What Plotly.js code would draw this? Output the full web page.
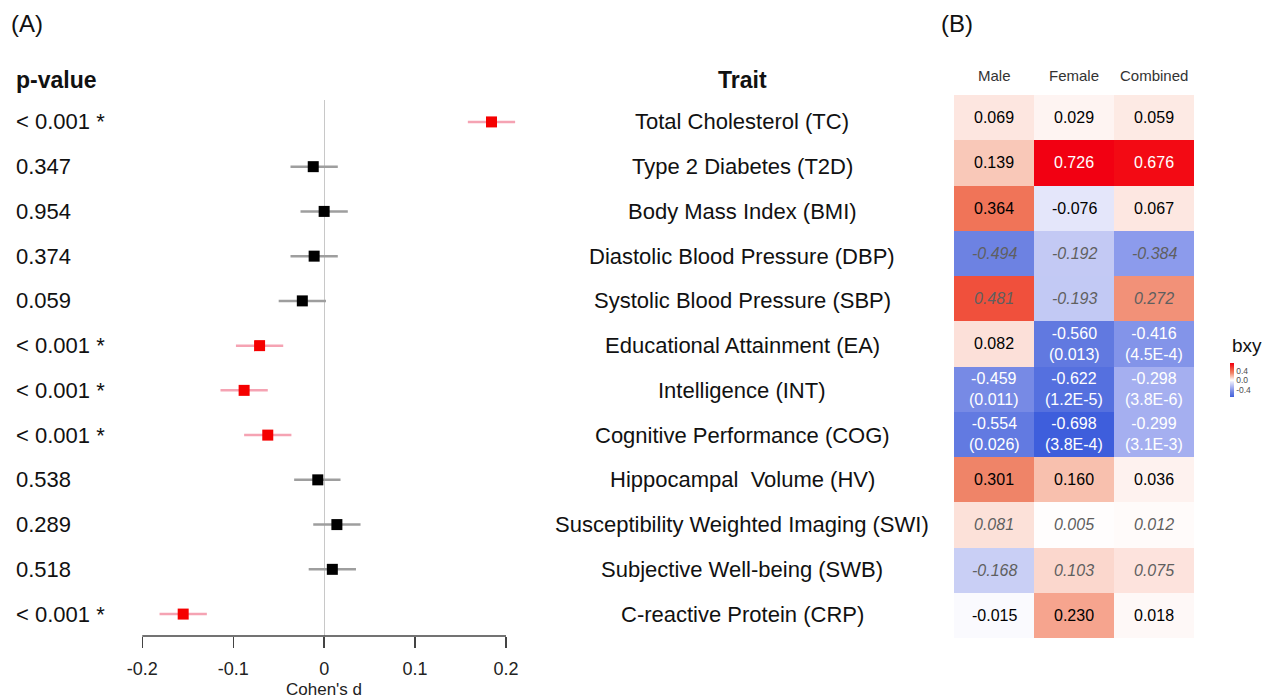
<!DOCTYPE html>
<html>
<head>
<meta charset="utf-8">
<script src="https://cdn.plot.ly/plotly-3.0.1.min.js"></script>
<style>html,body{margin:0;padding:0;background:#fff;}#chart{width:1269px;height:700px;}</style>
</head>
<body>
<div id="chart"></div>
<script>
// ---------------- data ----------------
const traits = ["Total Cholesterol (TC)", "Type 2 Diabetes (T2D)", "Body Mass Index (BMI)",
  "Diastolic Blood Pressure (DBP)", "Systolic Blood Pressure (SBP)", "Educational Attainment (EA)",
  "Intelligence (INT)", "Cognitive Performance (COG)", "Hippocampal\u00a0 Volume (HV)",
  "Susceptibility Weighted Imaging (SWI)", "Subjective Well-being (SWB)", "C-reactive Protein (CRP)"];
const pValues = ["< 0.001 *", "0.347", "0.954", "0.374", "0.059", "< 0.001 *", "< 0.001 *",
  "< 0.001 *", "0.538", "0.289", "0.518", "< 0.001 *"];
const cohenD = [0.184, -0.012, 0.000, -0.011, -0.024, -0.071, -0.088, -0.062, -0.007, 0.014, 0.009, -0.155];
const ciLow  = [0.158, -0.037, -0.026, -0.037, -0.050, -0.097, -0.114, -0.088, -0.033, -0.012, -0.017, -0.181];
const ciHigh = [0.210, 0.015, 0.026, 0.015, 0.002, -0.045, -0.062, -0.036, 0.018, 0.040, 0.035, -0.129];
const xTicks = [-0.2, -0.1, 0, 0.1, 0.2];
const xTickLabels = ["-0.2", "-0.1", "0", "0.1", "0.2"];

const groups = ["Male", "Female", "Combined"];
const bxyMale     = [0.069, 0.139, 0.364, -0.494, 0.481, 0.082, -0.459, -0.554, 0.301, 0.081, -0.168, -0.015];
const bxyFemale   = [0.029, 0.726, -0.076, -0.192, -0.193, -0.560, -0.622, -0.698, 0.160, 0.005, 0.103, 0.230];
const bxyCombined = [0.059, 0.676, 0.067, -0.384, 0.272, -0.416, -0.298, -0.299, 0.036, 0.012, 0.075, 0.018];
const pMale     = [null, null, null, null, null, null, "0.011", "0.026", null, null, null, null];
const pFemale   = [null, null, null, null, null, "0.013", "1.2E-5", "3.8E-4", null, null, null, null];
const pCombined = [null, null, null, null, null, "4.5E-4", "3.8E-6", "3.1E-3", null, null, null, null];
const italicRows = [false, false, false, true, true, false, false, false, false, true, true, false];
const cbTicks = [-0.4, 0, 0.4];
const cbTickLabels = ["-0.4", "0.0", "0.4"];

// ---------------- helpers ----------------
const W = 1269, H = 700;
const FONT = "Liberation Sans, Arial, Helvetica, sans-serif";
const px = v => v / W;
const py = v => 1 - v / H;
const esc = s => s.replace(/</g, "&lt;");
const isSig = pValues.map(p => p.indexOf("*") >= 0);
const idx = traits.map((_, i) => i);

// CI lines
function ciTrace(sel, color) {
  const xs = [], ys = [];
  idx.forEach(i => { if (sel(i)) { xs.push(ciLow[i], ciHigh[i], null); ys.push(i, i, null); } });
  return {x: xs, y: ys, type: "scatter", mode: "lines", line: {color: color, width: 2.5},
    hoverinfo: "skip", xaxis: "x", yaxis: "y"};
}
function ptTrace(sel, color) {
  const xs = [], ys = [];
  idx.forEach(i => { if (sel(i)) { xs.push(cohenD[i]); ys.push(i); } });
  return {x: xs, y: ys, type: "scatter", mode: "markers", cliponaxis: false,
    marker: {symbol: "square", size: 11, color: color, line: {width: 0}},
    hoverinfo: "skip", xaxis: "x", yaxis: "y"};
}

// heatmap
const bxyCols = [bxyMale, bxyFemale, bxyCombined];
const pCols = [pMale, pFemale, pCombined];
const z = idx.map(i => bxyCols.map(c => c[i]));
const allZ = [].concat(bxyMale, bxyFemale, bxyCombined);
const zmin = Math.min.apply(null, allZ), zmax = Math.max.apply(null, allZ);
const colorAnchors = [
  [zmin, "#3E5EDC"], [-0.622, "#5570DF"], [-0.494, "#6D82E2"], [-0.384, "#8C9BEC"],
  [-0.298, "#A5AFF0"], [-0.180, "#C6CCF4"], [-0.076, "#E4E6FA"], [0, "#FFFFFF"],
  [0.069, "#FDE6E0"], [0.139, "#F9C8B8"], [0.230, "#F6A48E"], [0.301, "#EF8468"],
  [0.364, "#F07458"], [0.481, "#F0503C"], [0.676, "#F30A14"], [zmax, "#F20012"]];
const colorscale = colorAnchors.map(a => [(a[0] - zmin) / (zmax - zmin), a[1]]);

const heat = {
  type: "heatmap", z: z, x: [0, 1, 2], y: idx, xaxis: "x2", yaxis: "y2",
  zmin: zmin, zmax: zmax, colorscale: colorscale, hoverinfo: "skip",
  colorbar: {x: px(1230), xanchor: "left", xpad: 0, y: py(380), yanchor: "middle", ypad: 0,
    len: 34, lenmode: "pixels", thickness: 4, thicknessmode: "pixels", outlinewidth: 0,
    ticks: "", tickvals: cbTicks, ticktext: cbTickLabels,
    tickfont: {family: FONT, size: 8.5, color: "#4d4d4d"}}
};

const traces = [
  ciTrace(i => isSig[i], "#F5A3B3"),
  ciTrace(i => !isSig[i], "#9E9E9E"),
  ptTrace(i => isSig[i], "#F50000"),
  ptTrace(i => !isSig[i], "#000000"),
  heat
];

// ---------------- annotations ----------------
const ann = [];
const A = (o) => ann.push(Object.assign({showarrow: false, font: {family: FONT, size: 22, color: "#111"}}, o));
A({text: "(A)", xref: "paper", yref: "paper", x: px(9), y: py(24), xanchor: "left", yanchor: "middle", font: {family: FONT, size: 24, color: "#111"}});
A({text: "(B)", xref: "paper", yref: "paper", x: px(939), y: py(24), xanchor: "left", yanchor: "middle", font: {family: FONT, size: 24, color: "#111"}});
A({text: "<b>p-value</b>", xref: "paper", yref: "paper", x: px(14), y: py(80), xanchor: "left", yanchor: "middle", font: {family: FONT, size: 23, color: "#111"}});
A({text: "<b>Trait</b>", xref: "paper", yref: "paper", x: px(742), y: py(80), xanchor: "center", yanchor: "middle", font: {family: FONT, size: 23, color: "#111"}});
idx.forEach(i => {
  A({text: esc(pValues[i]), xref: "paper", yref: "y", x: px(14), y: i, xanchor: "left", yanchor: "middle"});
  A({text: traits[i], xref: "paper", yref: "y", x: px(742), y: i, xanchor: "center", yanchor: "middle"});
});
A({text: "Cohen's d", xref: "x", yref: "paper", x: 0, y: py(689.5), xanchor: "center", yanchor: "middle", font: {family: FONT, size: 17, color: "#222"}});
groups.forEach((g, j) => {
  A({text: g, xref: "x2", yref: "paper", x: j, y: py(76), xanchor: "center", yanchor: "middle", font: {family: FONT, size: 15, color: "#333"}});
});
idx.forEach(i => {
  groups.forEach((g, j) => {
    const v = bxyCols[j][i], p = pCols[j][i];
    let txt = v.toFixed(3);
    if (p) txt += "<br>(" + p + ")";
    let color = "#000";
    if (italicRows[i]) { txt = "<i>" + txt + "</i>"; color = "#5f5f5f"; }
    else if (p || Math.abs(v) > 0.6) color = "#ffffff";
    A({text: txt, xref: "x2", yref: "y2", x: j, y: i, xanchor: "center", yanchor: "middle",
      font: {family: FONT, size: 16, color: color}});
  });
});
A({text: "bxy", xref: "paper", yref: "paper", x: px(1230), y: py(346), xanchor: "left", yanchor: "middle", font: {family: FONT, size: 19, color: "#111"}});

// ---------------- layout ----------------
const layout = {
  width: W, height: H, margin: {l: 0, r: 0, t: 0, b: 0},
  paper_bgcolor: "#fff", plot_bgcolor: "rgba(0,0,0,0)", showlegend: false,
  font: {family: FONT},
  xaxis: {domain: [px(96.8), px(551.5)], range: [-0.25, 0.25], anchor: "y",
    showgrid: false, showline: false, zeroline: true, zerolinecolor: "#c8c8c8", zerolinewidth: 1,
    ticks: "outside", ticklen: 11, tickwidth: 1.3, tickcolor: "#444",
    tickvals: xTicks, ticktext: xTickLabels, ticklabelstandoff: 5,
    tickfont: {family: FONT, size: 18, color: "#222"}, fixedrange: true},
  yaxis: {domain: [py(636), py(100)], range: [11.49, -0.49], anchor: "x",
    showgrid: false, showline: false, zeroline: false, showticklabels: false, ticks: "", fixedrange: true},
  xaxis2: {domain: [px(954), px(1194)], range: [-0.5, 2.5], anchor: "y2",
    showgrid: false, showline: false, zeroline: false, showticklabels: false, ticks: ""},
  yaxis2: {domain: [py(638), py(95)], range: [11.5, -0.5], anchor: "x2",
    showgrid: false, showline: false, zeroline: false, showticklabels: false, ticks: ""},
  shapes: [{type: "line", xref: "x", yref: "paper", x0: xTicks[0], x1: xTicks[xTicks.length - 1],
    y0: py(636), y1: py(636), line: {color: "#444", width: 1.3}}],
  annotations: ann
};

Plotly.newPlot("chart", traces, layout, {staticPlot: true, displayModeBar: false});
</script>
</body>
</html>
